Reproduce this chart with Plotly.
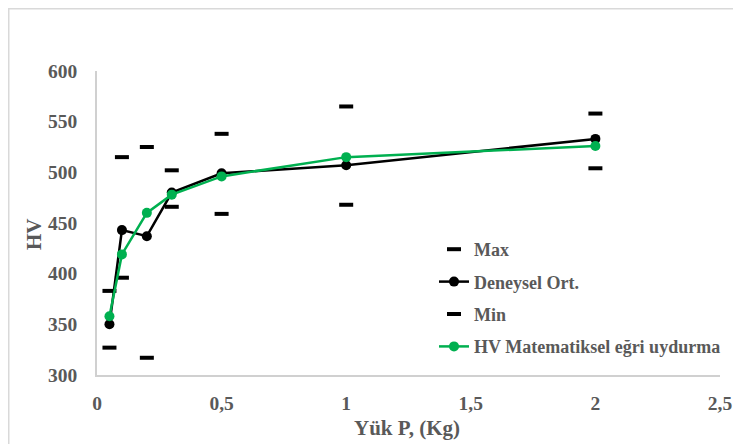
import plotly.graph_objects as go

loads = [0.05, 0.1, 0.2, 0.3, 0.5, 1, 2]
hv_max = [383, 515, 525, 502, 538, 565, 558]
hv_avg = [350, 443, 437, 480, 499, 507, 533]
hv_min = [327, 396, 317, 466, 459, 468, 504]
hv_fit = [358, 419, 460, 478, 496, 515, 526]

GREEN = "#00B050"
FONT = "Liberation Serif"
GREY = "#595959"

# figure is placed 8px into the page by the browser's default body margin
W, H = 733, 436
L, R, T, B = 89, 21, 63, 69
PW, PH = W - L - R, H - T - B


def px(x):
    return (x - L) / PW


def py(y):
    return (H - B - y) / PH


fig = go.Figure()
fig.add_trace(go.Scatter(
    x=loads, y=hv_max, name="Max", mode="markers", legendgroup="a",
    marker=dict(symbol="line-ew", size=10, line=dict(width=4, color="black"), color="black")))
fig.add_trace(go.Scatter(
    x=loads, y=hv_avg, name="Deneysel Ort.", mode="lines+markers", legendgroup="b",
    line=dict(color="black", width=2.5),
    marker=dict(symbol="circle", size=10, color="black")))
fig.add_trace(go.Scatter(
    x=loads, y=hv_min, name="Min", mode="markers", legendgroup="c",
    marker=dict(symbol="line-ew", size=10, line=dict(width=4, color="black"), color="black")))
fig.add_trace(go.Scatter(
    x=loads, y=hv_fit, name="HV Matematiksel eğri uydurma", mode="lines+markers", legendgroup="d",
    line=dict(color=GREEN, width=2.5),
    marker=dict(symbol="circle", size=10, color=GREEN)))

title_font = dict(family=FONT, size=21, color=GREY, weight="bold")
tick_font = dict(family=FONT, size=19.5, color=GREY, weight="bold")

fig.update_layout(
    width=W, height=H,
    margin=dict(l=L, r=R, t=T, b=B, autoexpand=False),
    paper_bgcolor="white", plot_bgcolor="white",
    separators=",.",
    font=dict(family=FONT, color=GREY, size=18, weight="bold"),
    showlegend=True,
    legend=dict(x=px(426), y=py(223), xanchor="left", yanchor="top",
                bgcolor="rgba(0,0,0,0)", tracegroupgap=6,
                font=dict(family=FONT, size=18, color=GREY, weight="bold")),
    xaxis=dict(range=[0, 2.5], dtick=0.5, tick0=0, showgrid=False, zeroline=False,
               showline=True, linecolor="#d0d0d0", linewidth=1.5, ticks="",
               automargin=False, ticklabelstandoff=10, tickfont=tick_font),
    yaxis=dict(range=[300, 600], dtick=50, tick0=300, showgrid=False, zeroline=False,
               showline=True, linecolor="#d0d0d0", linewidth=1.5, ticks="",
               automargin=False, ticklabelstandoff=14, tickfont=tick_font),
    annotations=[
        dict(text="Yük P, (Kg)", xref="paper", yref="paper", x=px(399), y=py(420),
             xanchor="center", yanchor="middle", showarrow=False, font=title_font),
        dict(text="HV", xref="paper", yref="paper", x=px(25.5), y=py(226.5),
             xanchor="center", yanchor="middle", textangle=-90, showarrow=False, font=title_font),
    ],
    shapes=[dict(type="rect", xref="paper", yref="paper",
                 x0=px(0.75), x1=px(W + 20),
                 y0=py(H + 20), y1=py(0.75),
                 line=dict(color="#d9d9d9", width=1.5), fillcolor="rgba(0,0,0,0)", layer="below")],
)

fig.write_html("out.html")
